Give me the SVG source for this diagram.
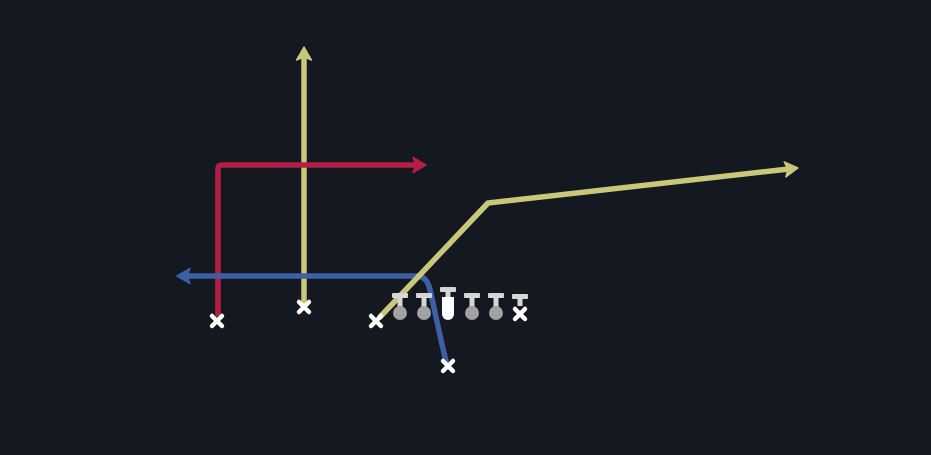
<svg xmlns="http://www.w3.org/2000/svg" width="931" height="455" viewBox="0 0 931 455">
<defs>
<style>
.route{fill:none;stroke-width:5.5;stroke-linecap:round;stroke-linejoin:round}
.red{stroke:#b51f43}
.yel{stroke:#c9c77a}
.blu{stroke:#3d5fa3}
.xm{stroke:#ffffff;stroke-width:4.5;stroke-linecap:round}
.bar{fill:#d6d6d6}
.ball{fill:#a3a3a3}
</style>
<marker id="arR" markerUnits="userSpaceOnUse" markerWidth="18" markerHeight="18" refX="5" refY="9" orient="auto" viewBox="0 0 18 18">
<path d="M1 1.5 L14 9 L1 16.5 L4 9 Z" fill="#b51f43" stroke="#b51f43" stroke-width="1.5" stroke-linejoin="round"/>
</marker>
<marker id="arY" markerUnits="userSpaceOnUse" markerWidth="18" markerHeight="18" refX="5" refY="9" orient="auto" viewBox="0 0 18 18">
<path d="M1 1.5 L14 9 L1 16.5 L4 9 Z" fill="#c9c77a" stroke="#c9c77a" stroke-width="1.5" stroke-linejoin="round"/>
</marker>
<marker id="arB" markerUnits="userSpaceOnUse" markerWidth="18" markerHeight="18" refX="5" refY="9" orient="auto" viewBox="0 0 18 18">
<path d="M1 1.5 L14 9 L1 16.5 L4 9 Z" fill="#3d5fa3" stroke="#3d5fa3" stroke-width="1.5" stroke-linejoin="round"/>
</marker>
</defs>
<rect width="931" height="455" fill="#141820"/>
<g id="connectors">
<path class="route yel" d="M304 302 V56" marker-end="url(#arY)"/>
<path class="route red" d="M218 314 V169 Q218 165 222 165 H417" marker-end="url(#arR)"/>
<path class="route blu" d="M446 361 C440 338 434 306 430 290 Q427 276 417 276 H186" marker-end="url(#arB)"/>
<path class="route yel" d="M380 317 L488 203 L789 169" marker-end="url(#arY)"/>
</g>
<g id="player-left">
<path class="xm" d="M212 316 L222 326 M222 316 L212 326"/>
</g>
<g id="player-slot">
<path class="xm" d="M299 302 L309 312 M309 302 L299 312"/>
</g>
<g id="player-te">
<path class="xm" d="M371 316 L381 326 M381 316 L371 326"/>
</g>
<g id="player-back">
<path class="xm" d="M443 361 L453 371 M453 361 L443 371"/>
</g>
<g id="lineman-1">
<rect class="bar" x="392" y="293" width="16" height="5" rx="1"/>
<rect class="bar" x="397.5" y="297" width="5" height="10"/>
<circle class="ball" cx="400" cy="313" r="7"/>
</g>
<g id="lineman-2">
<rect class="bar" x="416" y="293" width="16" height="5" rx="1"/>
<rect class="bar" x="421.5" y="297" width="5" height="10"/>
<circle class="ball" cx="424" cy="313" r="7"/>
</g>
<g id="center">
<rect class="bar" x="440" y="287" width="16" height="5" rx="1"/>
<rect fill="#d6d6d6" x="445.5" y="291" width="5" height="6"/>
<path d="M442 297 H454 V314 A6 6 0 0 1 442 314 Z" fill="#ffffff"/>
</g>
<g id="lineman-4">
<rect class="bar" x="464" y="293" width="16" height="5" rx="1"/>
<rect class="bar" x="469.5" y="297" width="5" height="10"/>
<circle class="ball" cx="472" cy="313" r="7"/>
</g>
<g id="lineman-5">
<rect class="bar" x="488" y="293" width="16" height="5" rx="1"/>
<rect class="bar" x="493.5" y="297" width="5" height="10"/>
<circle class="ball" cx="496" cy="313" r="7"/>
</g>
<g id="player-right">
<rect class="bar" x="512" y="294" width="16" height="5" rx="1"/>
<rect class="bar" x="517.5" y="298" width="5" height="8"/>
<path class="xm" d="M515 309 L525 319 M525 309 L515 319"/>
</g>
</svg>
